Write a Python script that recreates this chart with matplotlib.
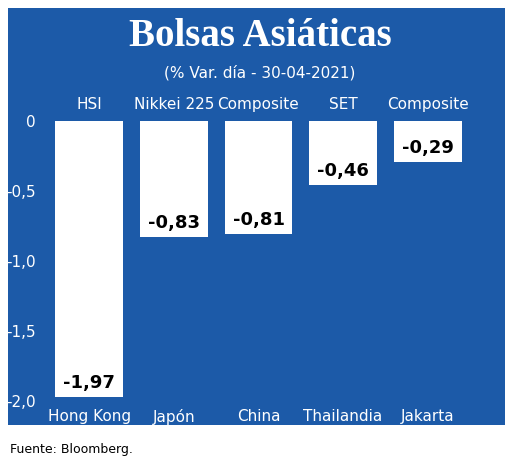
import matplotlib.pyplot as plt
from matplotlib.patches import Rectangle

indices = ["HSI", "Nikkei 225", "Composite", "SET", "Composite"]
countries = ["Hong Kong", "Japón", "China", "Thailandia", "Jakarta"]
values = [-1.97, -0.83, -0.81, -0.46, -0.29]
yticks = [0, -0.5, -1.0, -1.5, -2.0]
ytick_labels = ["0", "-0,5", "-1,0", "-1,5", "-2,0"]

BLUE = "#1c5aa8"
W, H = 520, 462

fig = plt.figure(figsize=(W / 100, H / 100), dpi=100)
fig.patch.set_facecolor("white")

# blue panel
fig.add_artist(Rectangle((8 / W, 1 - 425 / H), 497 / W, 417 / H,
                         transform=fig.transFigure, facecolor=BLUE,
                         edgecolor="none", zorder=0))

fig.text(260 / W, 1 - 36 / H, "Bolsas Asiáticas", ha="center", va="center",
         color="white", fontsize=28, fontweight="bold", family="Liberation Serif")
fig.text(260 / W, 1 - 73 / H, "(% Var. día - 30-04-2021)", ha="center",
         va="center", color="white", fontsize=11, family="Liberation Sans Narrow")
fig.text(10 / W, 1 - 450 / H, "Fuente: Bloomberg.", ha="left", va="center",
         color="black", fontsize=9, family="Liberation Sans Narrow")

ax = fig.add_axes([47 / W, 1 - 401 / H, 423 / W, 280 / H])
ax.set_facecolor("none")
x = list(range(len(values)))
ax.bar(x, values, width=0.8, color="white", zorder=2)
ax.set_xlim(-0.5, len(values) - 0.5)
ax.set_ylim(-2.0, 0)
ax.set_yticks(yticks)
ax.set_yticklabels(ytick_labels, color="white", fontsize=11,
                   family="Liberation Sans Narrow")
ax.tick_params(axis="y", length=0, pad=8)
ax.set_xticks(x)
ax.set_xticklabels(countries, color="white", fontsize=11,
                   family="Liberation Sans Narrow")
ax.tick_params(axis="x", length=0, pad=6)
for s in ax.spines.values():
    s.set_visible(False)

for i, (v, name) in enumerate(zip(values, indices)):
    ax.text(i, 0.12, name, ha="center", va="center", color="white",
            fontsize=11, family="Liberation Sans Narrow")
    ax.text(i, v + 0.1, f"{v:.2f}".replace(".", ","), ha="center",
            va="center", color="black", fontsize=13, fontweight="bold",
            family="Liberation Sans Narrow")

ax.yaxis.set_tick_params(labelleft=True)
fig.savefig("out.png", dpi=100)
